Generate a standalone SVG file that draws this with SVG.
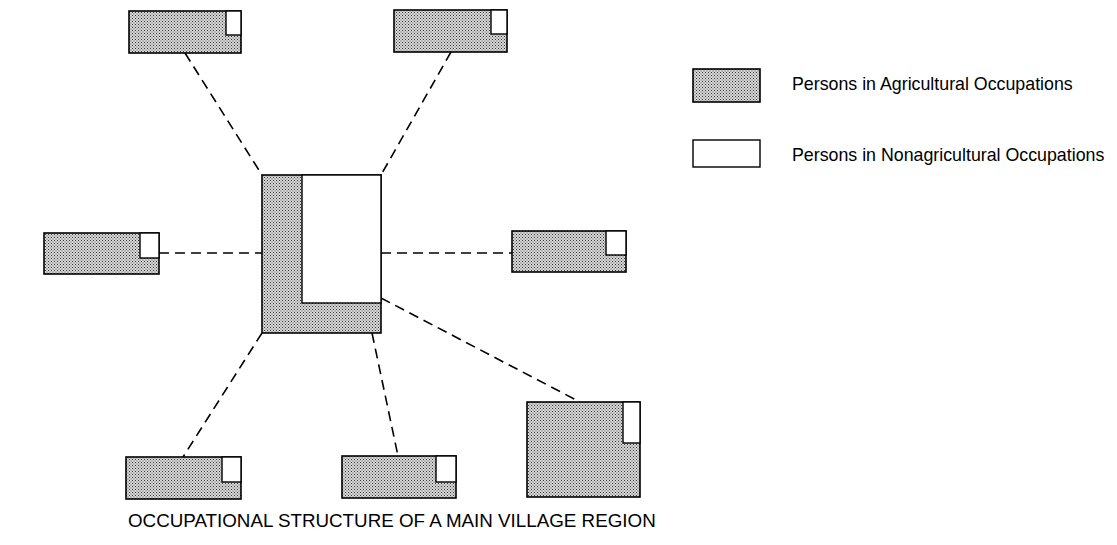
<svg xmlns="http://www.w3.org/2000/svg" width="1117" height="545" viewBox="0 0 1117 545">
<defs>
<pattern id="dots" width="3" height="3" patternUnits="userSpaceOnUse">
<rect width="3" height="3" fill="#d9d9d9"/>
<rect x="0" y="0" width="1" height="1" fill="#333"/>
<rect x="1.5" y="1.5" width="1" height="1" fill="#4a4a4a"/>
</pattern>
<style>
.ag{fill:url(#dots);stroke:#000;stroke-width:1.6}
.na{fill:#fff;stroke:#000;stroke-width:1.4}
.cn{stroke:#000;stroke-width:1.6;stroke-dasharray:10 6;fill:none}
.lbl{font-family:"Liberation Sans",Arial,sans-serif;fill:#000}
</style>
</defs>
<rect width="1117" height="545" fill="#fff"/>
<g id="connectors">
<line class="cn" x1="185" y1="53" x2="262" y2="175"/>
<line class="cn" x1="451" y1="52" x2="381" y2="175"/>
<line class="cn" x1="159" y1="253" x2="262" y2="253"/>
<line class="cn" x1="381" y1="253" x2="512" y2="253"/>
<line class="cn" x1="381" y1="298" x2="580" y2="402"/>
<line class="cn" x1="262" y1="333" x2="183" y2="457"/>
<line class="cn" x1="372" y1="333" x2="398" y2="456"/>
</g>
<g id="center">
<rect class="ag" x="262" y="175" width="119" height="158"/>
<rect class="na" x="302" y="175" width="79" height="128"/>
</g>
<g id="top-left">
<rect class="ag" x="129" y="11" width="112" height="42"/>
<rect class="na" x="226" y="11" width="15" height="24"/>
</g>
<g id="top-right">
<rect class="ag" x="394" y="10" width="113" height="42"/>
<rect class="na" x="491" y="10" width="16" height="24"/>
</g>
<g id="left">
<rect class="ag" x="44" y="233" width="115" height="41"/>
<rect class="na" x="140" y="233" width="19" height="25"/>
</g>
<g id="right">
<rect class="ag" x="512" y="231" width="114" height="41"/>
<rect class="na" x="606" y="231" width="20" height="24"/>
</g>
<g id="bottom-right">
<rect class="ag" x="527" y="402" width="113" height="95"/>
<rect class="na" x="623" y="402" width="17" height="41"/>
</g>
<g id="bottom-left">
<rect class="ag" x="126" y="457" width="115" height="42"/>
<rect class="na" x="222" y="457" width="19" height="25"/>
</g>
<g id="bottom-middle">
<rect class="ag" x="342" y="456" width="114" height="42"/>
<rect class="na" x="436" y="456" width="20" height="26"/>
</g>
<g id="legend">
<rect class="ag" x="693" y="69" width="67" height="33"/>
<text class="lbl" x="792" y="90" font-size="17.8">Persons in Agricultural Occupations</text>
<rect class="na" x="693" y="140" width="67" height="27"/>
<text class="lbl" x="792" y="161" font-size="17.8">Persons in Nonagricultural Occupations</text>
</g>
<text id="title" class="lbl" x="128" y="527" font-size="18.8">OCCUPATIONAL STRUCTURE OF A MAIN VILLAGE REGION</text>
</svg>
